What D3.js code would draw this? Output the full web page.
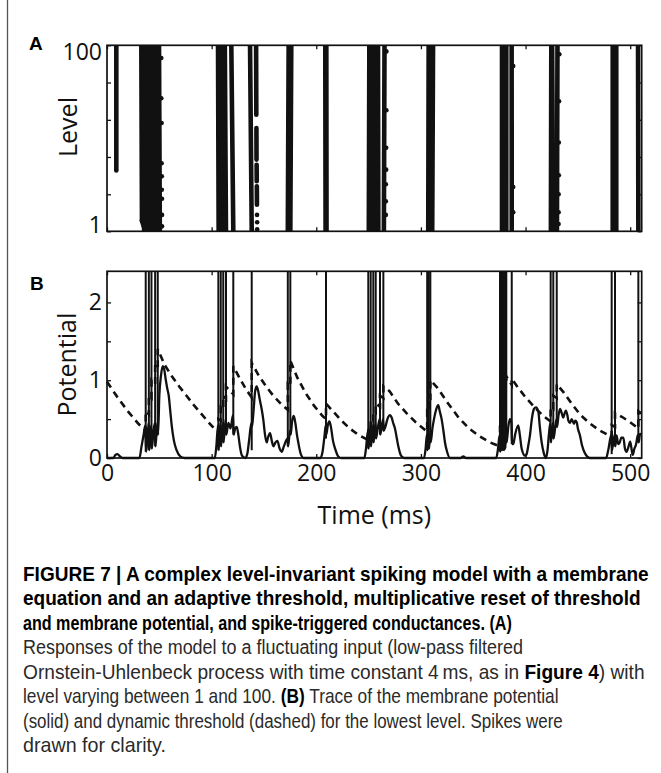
<!DOCTYPE html>
<html>
<head>
<meta charset="utf-8">
<script src="https://cdn.jsdelivr.net/npm/d3@7"></script>
<style>
    body { margin: 0; background: #fff; }
    svg text { font-family: "Open Sans", "Noto Sans", sans-serif; }
    .caption { font-family: "Liberation Sans Narrow", "Liberation Sans", sans-serif !important; white-space: pre; }
</style>
</head>
<body>
<div id="figure"></div>
<script>
(function () {

    // Axis ticks and labels
    var timeTicks = [0, 100, 200, 300, 400, 500];
    var levelTicks = [1, 2.5, 6.3, 15.8, 39.8, 100];
    var levelLabels = [1, 100];
    var potentialTicks = [0, 0.5, 1, 1.5, 2];
    var potentialLabels = [0, 1, 2];

    // Panel A: raster streaks [time at upper level, time at lower level, upper level, lower level]
    var rasterStreaks = [
        [8.9, 8.9, 100, 4.5],
        [32.8, 33.4, 100, 1.3], [33.4, 36.6, 1.3, 1.0],
        [35, 35.5, 100, 1], [37.5, 38, 100, 1], [40, 40.5, 100, 1], [42.5, 43, 100, 1],
        [45, 45.5, 100, 1], [47.5, 48, 100, 1], [49.7, 50.5, 100, 1],
        [51.9, 51.9, 73, 73], [51.9, 51.9, 27, 27], [52.2, 52.2, 14.6, 14.6], [52.2, 52.2, 5.4, 5.4],
        [52.4, 52.4, 3.9, 3.9], [52.4, 52.4, 2.8, 2.8], [52.6, 52.6, 2.24, 2.24], [52.6, 52.6, 1.5, 1.5],
        [52.6, 52.6, 1.13, 1.13],
        [106.1, 106.7, 100, 1], [108.4, 109, 100, 1], [110.6, 111.3, 100, 1], [112.6, 113.7, 100, 1],
        [118.8, 120.7, 100, 1],
        [136.7, 138.3, 100, 1],
        [142.5, 142.7, 100, 17.9], [142.8, 142.9, 12.9, 5.9], [143, 143.1, 5.2, 3.45], [143.2, 143.3, 3.05, 1.93],
        [143.4, 143.4, 1.5, 1.5], [143.5, 143.5, 1.25, 1.25], [143.5, 143.5, 1.05, 1.05],
        [173.6, 172.8, 100, 1], [176.1, 175.2, 100, 1],
        [208.6, 208.9, 100, 1], [209.6, 209.8, 100, 1],
        [250.7, 250.2, 100, 1], [253, 252.5, 100, 1], [255.3, 254.8, 100, 1], [257.5, 257.2, 100, 1],
        [259, 259.3, 100, 1], [265.2, 264.6, 100, 1],
        [267, 267, 86, 86], [267, 267, 20, 20], [266.8, 266.8, 7.9, 7.9], [266.8, 266.8, 4.6, 4.6],
        [266.5, 266.5, 3.2, 3.2], [266.5, 266.5, 2.1, 2.1], [266.5, 266.5, 1.5, 1.5],
        [307.4, 307, 100, 1], [309.5, 309, 100, 1], [311.6, 310.8, 100, 1],
        [377.5, 377.5, 100, 1], [379.5, 379.5, 100, 1], [381.6, 381.6, 100, 1], [386.7, 386.8, 100, 1],
        [388.2, 388.2, 60, 60], [388.2, 388.2, 3, 3], [388.2, 388.2, 1.6, 1.6],
        [424.6, 424.2, 100, 1], [425.4, 426.4, 100, 1], [430.5, 430, 100, 1],
        [432.3, 432.3, 80, 80], [432, 432, 25, 25], [431.8, 431.8, 9, 9], [431.8, 431.8, 4, 4],
        [431.6, 431.6, 2.5, 2.5], [431.6, 431.6, 1.6, 1.6], [431.6, 431.6, 1.2, 1.2],
        [483.3, 483.3, 100, 1], [485, 485, 100, 1], [486.7, 486.7, 100, 1],
        [507.5, 507.8, 100, 1]
    ];

    // Panel B: spikes at the lowest level [time, potential at foot of the spike]
    var spikes = [
        [37, 0.08], [40, 0.1], [42.5, 0.12], [46, 0.15], [48.5, 0.3],
        [106.4, 0.1], [108.7, 0.15], [111.1, 0.2], [113.7, 0.3], [120.7, 0.3], [138.3, 0.1],
        [172.8, 0.15], [175.2, 0.3], [209.3, 0.25],
        [249.7, 0.12], [252, 0.15], [254.5, 0.2], [256.8, 0.25], [260.9, 0.3], [264.1, 0.35],
        [306, 0.1], [307.5, 0.12], [309, 0.2],
        [375.6, 0.08], [376.8, 0.1], [378, 0.1], [379.2, 0.1], [380.4, 0.12], [381.6, 0.2], [386.8, 0.18],
        [424, 0.2], [426.5, 0.25], [429.8, 0.4],
        [482.3, 0.05], [485.5, 0.15], [507.8, 0.2]
    ];

    // Panel B: membrane potential (solid) [time, potential]
    var membrane = [
        [0, 0], [6, 0], [8, 0.04], [10, 0.05], [12.5, 0.02], [15, 0],
        [31, 0], [33, 0.15], [35, 0.3], [36.6, 0.42], [37.4, 0.08], [39, 0.3], [39.8, 0.45], [40.4, 0.1],
        [41.5, 0.3], [42.3, 0.42], [42.8, 0.12], [44.5, 0.35], [45.8, 0.45], [46.3, 0.15], [47.5, 0.35],
        [48.3, 0.45], [48.8, 0.3], [50, 0.8], [51.6, 1.06], [53.3, 1.18], [54.5, 1.15], [56, 1.02],
        [57.5, 0.9], [59, 0.8], [60.5, 0.6], [62, 0.4], [64, 0.22], [66.5, 0.1], [70, 0.02], [74, 0],
        [103, 0], [104.5, 0.15], [106.1, 0.42], [106.7, 0.1], [108.4, 0.45], [109, 0.15], [110.8, 0.45],
        [111.4, 0.2], [113.4, 0.5], [114, 0.3], [116, 0.45], [118, 0.38], [120.4, 0.55], [121, 0.3],
        [122.5, 0.38], [124, 0.4], [125.5, 0.3], [127, 0.15], [129, 0.03], [132, 0], [134, 0.05],
        [136, 0.25], [138, 0.45], [138.6, 0.4], [140, 0.6], [141.5, 0.85], [143, 0.92], [144.5, 0.86],
        [146, 0.75], [147.8, 0.63], [149.4, 0.49], [151, 0.3], [152.6, 0.2], [154, 0.27], [155.8, 0.32],
        [157.5, 0.22], [159, 0.15], [161, 0.2], [162.8, 0.22], [165, 0.12], [167, 0.08], [169, 0.15],
        [172.5, 0.25], [173.1, 0.15], [174.9, 0.35], [175.5, 0.3], [177, 0.48], [178.5, 0.54], [180, 0.45],
        [181.5, 0.3], [182.8, 0.2], [185, 0.06], [188, 0],
        [204, 0], [206, 0.08], [208, 0.3], [209, 0.42], [209.6, 0.3], [211, 0.42], [212.5, 0.47],
        [214, 0.4], [216, 0.22], [218, 0.12], [221, 0.02], [224, 0],
        [246, 0], [247.5, 0.12], [249.4, 0.35], [250, 0.12], [251.7, 0.4], [252.3, 0.15], [254.2, 0.42],
        [254.8, 0.2], [256.5, 0.45], [257.1, 0.25], [259, 0.4], [260.6, 0.5], [261.2, 0.3], [263.8, 0.5],
        [264.4, 0.35], [266, 0.4], [268, 0.5], [270.4, 0.55], [272, 0.52], [273.5, 0.45], [275.2, 0.38],
        [277, 0.25], [278.4, 0.15], [281, 0.03], [284, 0],
        [303, 0], [304.5, 0.12], [305.7, 0.3], [306.3, 0.1], [307.2, 0.3], [307.8, 0.12], [308.7, 0.3],
        [309.3, 0.2], [311, 0.38], [312.5, 0.5], [314.5, 0.62], [316.6, 0.68], [318, 0.6], [319.8, 0.5],
        [321.5, 0.35], [323, 0.2], [325, 0.08], [327.8, 0],
        [338, 0], [340.5, 0.02], [343, 0],
        [372, 0], [373.5, 0.1], [375.3, 0.3], [375.9, 0.08], [376.5, 0.3], [377.1, 0.1], [377.7, 0.3],
        [378.3, 0.1], [378.9, 0.3], [379.5, 0.1], [380.1, 0.3], [380.7, 0.12], [381.3, 0.35], [381.9, 0.2],
        [383.5, 0.4], [385, 0.5], [386.5, 0.45], [387.1, 0.18], [388.3, 0.18], [390, 0.3], [393, 0.42],
        [394.5, 0.3], [396.3, 0.12], [399.5, 0.03], [401, 0.05], [402.5, 0.15], [404.2, 0.29], [406, 0.5],
        [408, 0.63], [410, 0.65], [412.2, 0.6], [413.5, 0.42], [415.4, 0.2], [417.5, 0.06], [419.5, 0],
        [421, 0.1], [422.3, 0.3], [423.7, 0.45], [424.3, 0.2], [426.2, 0.45], [426.8, 0.25], [429.5, 0.5],
        [430.1, 0.4], [431.5, 0.55], [433, 0.63], [434.5, 0.58], [436, 0.52], [437.5, 0.58], [438.6, 0.61],
        [440, 0.55], [440.9, 0.48], [442.5, 0.45], [444, 0.5], [446.3, 0.44], [447.5, 0.48], [448.9, 0.46],
        [450, 0.38], [452, 0.29], [454, 0.16], [456.8, 0.06], [461.6, 0],
        [477, 0], [479, 0.1], [482, 0.3], [482.6, 0.1], [485.2, 0.3], [485.8, 0.15], [487, 0.29],
        [488.5, 0.18], [490, 0.2], [491.5, 0.26], [493.5, 0.26], [495, 0.12], [496.6, 0.08], [498.5, 0.15],
        [500, 0.21], [501.5, 0.1], [502.4, 0.04], [504, 0.12], [505.5, 0.17], [507.5, 0.3], [508.1, 0.2],
        [509.4, 0.31], [511, 0.3]
    ];

    // Panel B: dynamic threshold (dashed) [time, threshold]
    var threshold = [
        [0, 0.98], [10, 0.78], [20, 0.6], [30, 0.44], [37, 0.35], [37, 0.6], [40, 0.56], [40, 0.8],
        [42.5, 0.77], [42.5, 1.0], [46, 0.95], [46, 1.2], [48.5, 1.16], [48.5, 1.4], [55, 1.2], [62, 1.05],
        [69, 0.92], [76, 0.8], [83, 0.68], [90, 0.57], [97, 0.46], [103, 0.37], [106.4, 0.34],
        [106.4, 0.5], [108.7, 0.48], [108.7, 0.65], [111.1, 0.62], [111.1, 0.8], [113.7, 0.76],
        [113.7, 0.92], [120.7, 0.82], [120.7, 1.18], [127, 1.02], [133, 0.88], [138.3, 0.78],
        [138.3, 1.22], [145, 1.06], [152, 0.92], [159, 0.8], [166, 0.7], [172.8, 0.62], [172.8, 0.95],
        [175.2, 0.92], [175.2, 1.25], [182, 1.03], [190, 0.83], [198, 0.67], [206, 0.54], [209.3, 0.5],
        [209.3, 0.7], [216, 0.6], [224, 0.48], [232, 0.38], [240, 0.3], [249.7, 0.23], [249.7, 0.38],
        [252, 0.36], [252, 0.5], [254.5, 0.48], [254.5, 0.6], [256.8, 0.58], [256.8, 0.7], [260.9, 0.66],
        [260.9, 0.8], [264.1, 0.77], [264.1, 0.92], [270, 0.86], [278, 0.7], [286, 0.58], [295, 0.46],
        [304, 0.36], [306, 0.34], [306, 0.6], [307.5, 0.58], [307.5, 0.8], [309, 0.78], [309, 1.0],
        [316, 0.9], [326, 0.7], [336, 0.52], [346, 0.38], [356, 0.28], [366, 0.2], [375.6, 0.15],
        [375.6, 0.4], [376.8, 0.4], [376.8, 0.6], [378, 0.6], [378, 0.75], [379.2, 0.75], [379.2, 0.88],
        [380.4, 0.87], [380.4, 0.98], [381.6, 0.97], [381.6, 1.05], [386.8, 0.94], [386.8, 1.02],
        [392, 0.92], [400, 0.78], [410, 0.63], [418, 0.53], [424, 0.47], [424, 0.65], [426.5, 0.63],
        [426.5, 0.8], [429.8, 0.77], [429.8, 0.95], [436, 0.85], [444, 0.7], [452, 0.56], [460, 0.46],
        [470, 0.36], [482.3, 0.27], [482.3, 0.42], [485.5, 0.4], [485.5, 0.58], [492, 0.53], [500, 0.46],
        [507.8, 0.38], [507.8, 0.6], [511, 0.57]
    ];

    // Caption text, [text, bold]
    var captionLines = [
        [["FIGURE 7 | A complex level-invariant spiking model with a membrane", 1]],
        [["equation and an adaptive threshold, multiplicative reset of threshold", 1]],
        [["and membrane potential, and spike-triggered conductances. (A)", 1]],
        [["Responses of the model to a fluctuating input (low-pass filtered", 0]],
        [["Ornstein-Uhlenbeck process with time constant 4\u2009ms, as in ", 0], ["Figure 4", 1], [") with", 0]],
        [["level varying between 1 and 100. ", 0], ["(B)", 1], [" Trace of the membrane potential", 0]],
        [["(solid) and dynamic threshold (dashed) for the lowest level. Spikes were", 0]],
        [["drawn for clarity.", 0]]
    ];
    var captionEnds = [649, 641, 512, 523, 645, 559, 563, 166];

    // Layout
    var width = 661, height = 773;
    var ink = "#111";
    var plotLeft = 107, plotRight = 641.7;
    var aTop = 45.3, aBottom = 231.3;
    var bTop = 271.3, bBottom = 458;

    var svg = d3.select("#figure")
        .append("svg")
        .attr("width", width)
        .attr("height", height);

    // Scales
    var x = d3.scaleLinear().domain([0, 511]).range([plotLeft, plotRight]);
    var yA = d3.scaleLog().domain([1, 100]).range([aBottom, aTop]);
    var yB = d3.scaleLinear().domain([0, 2.4]).range([bBottom, bTop]);

    // Left frame line of the figure box
    svg.append("line")
        .attr("x1", 7.5).attr("x2", 7.5)
        .attr("y1", 0).attr("y2", height)
        .attr("stroke", "#555")
        .attr("stroke-width", 1.3);

    var defs = svg.append("defs");
    defs.append("clipPath").attr("id", "clipA")
        .append("rect")
        .attr("x", plotLeft).attr("y", aTop)
        .attr("width", plotRight - plotLeft).attr("height", aBottom - aTop);

    // Panel A raster
    svg.append("g")
        .attr("clip-path", "url(#clipA)")
        .selectAll("line")
        .data(rasterStreaks)
        .enter().append("line")
        .attr("x1", function (d) { return x(d[0]); })
        .attr("y1", function (d) { return yA(d[2]); })
        .attr("x2", function (d) { return x(d[1]); })
        .attr("y2", function (d) { return yA(d[3]); })
        .attr("stroke", ink)
        .attr("stroke-width", 4.6)
        .attr("stroke-linecap", "round");

    // Panel B spikes
    svg.append("g")
        .selectAll("line")
        .data(spikes)
        .enter().append("line")
        .attr("x1", function (d) { return x(d[0]); })
        .attr("x2", function (d) { return x(d[0]); })
        .attr("y1", function (d) { return yB(d[1]); })
        .attr("y2", yB(2.4))
        .attr("stroke", ink)
        .attr("stroke-width", 2);

    // Membrane potential
    svg.append("path")
        .datum(membrane)
        .attr("fill", "none")
        .attr("stroke", ink)
        .attr("stroke-width", 2.3)
        .attr("stroke-linejoin", "round")
        .attr("d", d3.line()
            .curve(d3.curveMonotoneX)
            .x(function (d) { return x(d[0]); })
            .y(function (d) { return yB(d[1]); }));

    // Threshold
    svg.append("path")
        .datum(threshold)
        .attr("fill", "none")
        .attr("stroke", ink)
        .attr("stroke-width", 2.6)
        .attr("stroke-dasharray", "7,5")
        .attr("d", d3.line()
            .x(function (d) { return x(d[0]); })
            .y(function (d) { return yB(d[1]); }));

    // Boxed axes with inward ticks
    function drawAxes(y, yTicks, yLabels, top, bottom, showTime) {
        var g = svg.append("g");

        var left = g.append("g")
            .attr("transform", "translate(" + plotLeft + ",0)")
            .call(d3.axisLeft(y).tickValues(yTicks).tickSize(-4).tickPadding(5)
                .tickFormat(function (d) { return yLabels.indexOf(d) >= 0 ? d : ""; }));

        g.append("g")
            .attr("transform", "translate(" + plotRight + ",0)")
            .call(d3.axisRight(y).tickValues(yTicks).tickSize(-4).tickFormat(""));

        g.append("g")
            .attr("transform", "translate(0," + bottom + ")")
            .call(d3.axisBottom(x).tickValues(timeTicks).tickSize(-4).tickPadding(7)
                .tickFormat(showTime ? d3.format("d") : ""));

        g.append("g")
            .attr("transform", "translate(0," + top + ")")
            .call(d3.axisTop(x).tickValues(timeTicks).tickSize(-4).tickFormat(""));

        g.selectAll(".domain").remove();
        g.selectAll(".tick line").attr("stroke", ink).attr("stroke-width", 1.3);
        g.selectAll("g").attr("font-family", null).attr("font-size", null);
        g.selectAll(".tick text")
            .style("font-size", "23px")
            .attr("fill", ink);

        g.append("rect")
            .attr("x", plotLeft).attr("y", top)
            .attr("width", plotRight - plotLeft).attr("height", bottom - top)
            .attr("fill", "none")
            .attr("stroke", ink)
            .attr("stroke-width", 1.7);

        return left;
    }

    var leftA = drawAxes(yA, levelTicks, levelLabels, aTop, aBottom, false);
    // level labels sit inside the axis ends
    leftA.selectAll(".tick text")
        .attr("transform", function (d) { return "translate(0," + (d === 100 ? 7 : -6) + ")"; });

    drawAxes(yB, potentialTicks, potentialLabels, bTop, bBottom, true);

    // Axis titles
    svg.append("text")
        .attr("transform", "translate(77,127) rotate(-90)")
        .attr("text-anchor", "middle")
        .style("font-size", "25px")
        .attr("fill", ink)
        .text("Level");

    svg.append("text")
        .attr("transform", "translate(76," + ((bTop + bBottom) / 2) + ") rotate(-90)")
        .attr("text-anchor", "middle")
        .style("font-size", "25px")
        .attr("fill", ink)
        .text("Potential");

    svg.append("text")
        .attr("x", (plotLeft + plotRight) / 2)
        .attr("y", 524)
        .attr("text-anchor", "middle")
        .style("font-size", "25px")
        .attr("fill", ink)
        .text("Time (ms)");

    // Panel letters
    svg.append("text")
        .attr("x", 29).attr("y", 49.5)
        .style("font-family", "'Liberation Sans', Arial, sans-serif")
        .style("font-weight", "bold")
        .style("font-size", "19px")
        .text("A");

    svg.append("text")
        .attr("x", 30).attr("y", 290)
        .style("font-family", "'Liberation Sans', Arial, sans-serif")
        .style("font-weight", "bold")
        .style("font-size", "19px")
        .text("B");

    // Caption, each line squeezed horizontally to the width it has in the figure
    var caption = svg.append("g");
    captionLines.forEach(function (parts, i) {
        var t = caption.append("text")
            .attr("class", "caption")
            .attr("x", 0)
            .attr("y", 0)
            .style("font-size", "20px");
        parts.forEach(function (p) {
            t.append("tspan")
                .style("font-weight", p[1] ? "bold" : "normal")
                .attr("fill", p[1] ? "#000" : "#2a2a2a")
                .text(p[0]);
        });
        var natural = t.node().getComputedTextLength();
        var sx = (captionEnds[i] - 23) / natural;
        t.attr("transform", "translate(23," + (581 + i * 24.45) + ") scale(" + sx + ",1)");
    });

})();
</script>
</body>
</html>
